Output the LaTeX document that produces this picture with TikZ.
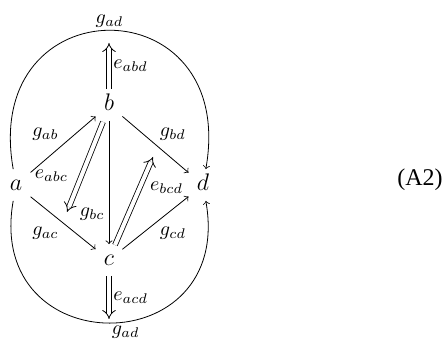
\documentclass[tikz,border=0pt]{standalone}
\usepackage{fontspec}
\newfontfamily\eqfont{Liberation Serif}
\usetikzlibrary{arrows.meta}
\tikzset{
	obj/.style={inner sep=4pt,text height=1.5ex,text depth=.25ex,font=\large},
	lbl/.style={inner sep=2pt},
	twocell/.style={double,double distance=2pt,-{Implies[]}},
}
\begin{document}
\begin{tikzpicture}[>=to,x=0.5pt,y=0.5pt]
		\useasboundingbox (0,0) rectangle (447,343);
		\node[obj] (a) at (16,158) {$a$};
		\node[obj] (b) at (109,238) {$b$};
		\node[obj] (c) at (109,83) {$c$};
		\node[obj] (d) at (203,158) {$d$};
		\node (eq) at (420,163) {\eqfont\fontsize{12}{14}\selectfont (A2)};
		\coordinate (abd) at (109,300);
		\coordinate (acd) at (109,24);
		\coordinate (abc1) at (103,221);
		\coordinate (abc2) at (67,131);
		\coordinate (bcd1) at (115,98);
		\coordinate (bcd2) at (153,186);
		\draw[->] (a) -- (b) node[midway,above left,lbl]{$g_{ab}$};
		\draw[->] (a) -- (c) node[midway,below left,lbl]{$g_{ac}$};
		\draw[->] (b) -- (d) node[midway,above right,lbl]{$g_{bd}$};
		\draw[->] (c) -- (d) node[midway,below right,lbl]{$g_{cd}$};
		\draw[->] (b) -- (c) node[pos=0.76,left,lbl]{$g_{bc}$};
		\draw[->] (a) to[out=100,in=80,looseness=2.5]
		node[midway,above,inner sep=1.5pt]{$g_{ad}$} (d);
		\draw[->] (a) to[out=-100,in=-80,looseness=2.2]
		node[midway,below right,inner sep=1pt]{$g_{ad}$} (d);
		\draw[twocell] (b.north) -- (abd) node[midway,right,lbl]{$e_{abd}$};
		\draw[twocell] (c.south) -- (acd) node[midway,right,lbl]{$e_{acd}$};
		\draw[twocell] (abc1) -- (abc2) node[pos=0.6,left=4.5pt,lbl]{$e_{abc}$};
		\draw[twocell] (bcd1) -- (bcd2) node[pos=0.65,right=3pt,lbl]{$e_{bcd}$};
	\end{tikzpicture}
\end{document}
